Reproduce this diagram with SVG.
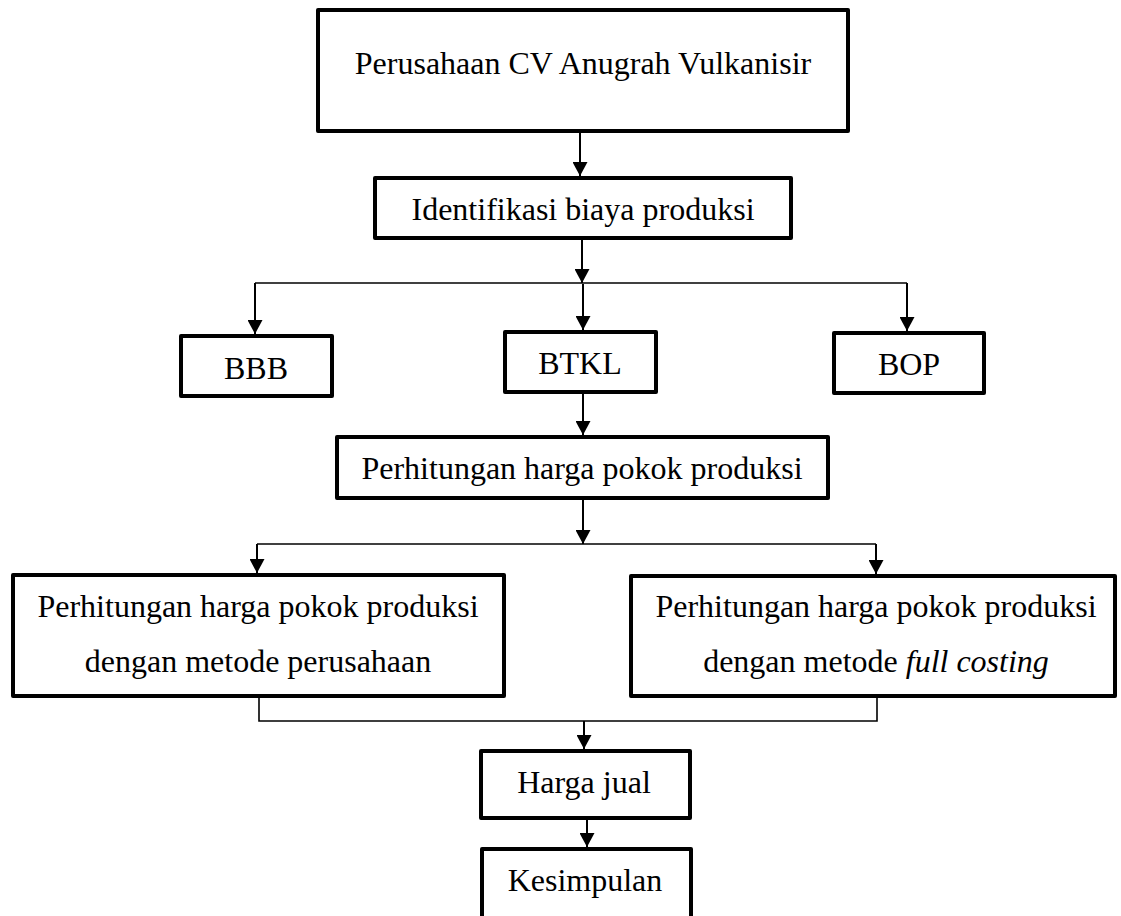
<svg xmlns="http://www.w3.org/2000/svg" width="1121" height="916" viewBox="0 0 1121 916">
<style>
.box{fill:#fff;stroke:#000;stroke-width:4;stroke-linejoin:round}
.t{font-family:"Liberation Serif","Times New Roman",serif;font-size:32px;fill:#000;text-anchor:middle}
.ln{fill:none;stroke:#000;stroke-width:2}
.hl{fill:none;stroke:#000;stroke-width:1.6}
.ar{fill:none;stroke:#000;stroke-width:2;marker-end:url(#ah)}
</style>
<defs>
<marker id="ah" viewBox="0 0 14 15" refX="14" refY="7.5" markerWidth="14" markerHeight="15" markerUnits="userSpaceOnUse" orient="auto">
<path d="M0,0 L14,7.5 L0,15 z" fill="#000"/>
</marker>
</defs>
<rect width="1121" height="916" fill="#fff"/>
<g id="connectors">
<line class="ar" x1="580" y1="133" x2="580" y2="176"/>
<line class="ar" x1="582" y1="240" x2="582" y2="283"/>
<line class="hl" x1="255" y1="283" x2="907" y2="283"/>
<line class="ar" x1="255" y1="283" x2="255" y2="334"/>
<line class="ar" x1="583" y1="284" x2="583" y2="330"/>
<line class="ar" x1="907" y1="283" x2="907" y2="331"/>
<line class="ar" x1="583" y1="394" x2="583" y2="435"/>
<line class="ar" x1="583" y1="500" x2="583" y2="544"/>
<line class="hl" x1="257" y1="544" x2="876" y2="544"/>
<line class="ar" x1="257" y1="544" x2="257" y2="573"/>
<line class="ar" x1="876" y1="544" x2="876" y2="574"/>
<polyline class="hl" points="259,698 259,721 877,721 877,698"/>
<line class="ar" x1="584" y1="721" x2="584" y2="749"/>
<line class="ar" x1="587" y1="820" x2="587" y2="847"/>
</g>
<g id="n-perusahaan">
<rect class="box" x="318" y="10" width="530" height="121"/>
<text class="t" x="583" y="74">Perusahaan CV Anugrah Vulkanisir</text>
</g>
<g id="n-identifikasi">
<rect class="box" x="375" y="178" width="416" height="60"/>
<text class="t" x="583" y="220">Identifikasi biaya produksi</text>
</g>
<g id="n-bbb">
<rect class="box" x="181" y="336" width="151" height="60"/>
<text class="t" x="256" y="379">BBB</text>
</g>
<g id="n-btkl">
<rect class="box" x="505" y="332" width="151" height="60"/>
<text class="t" x="580" y="374">BTKL</text>
</g>
<g id="n-bop">
<rect class="box" x="834" y="333" width="150" height="60"/>
<text class="t" x="909" y="375">BOP</text>
</g>
<g id="n-perhitungan">
<rect class="box" x="337" y="437" width="491" height="61"/>
<text class="t" x="582" y="479">Perhitungan harga pokok produksi</text>
</g>
<g id="n-perusahaan-metode">
<rect class="box" x="13" y="575" width="491" height="121"/>
<text class="t" x="258" y="617">Perhitungan harga pokok produksi</text>
<text class="t" x="258" y="672">dengan metode perusahaan</text>
</g>
<g id="n-full-costing">
<rect class="box" x="631" y="576" width="484" height="120"/>
<text class="t" x="876" y="617">Perhitungan harga pokok produksi</text>
<text class="t" x="876" y="672">dengan metode <tspan font-style="italic">full costing</tspan></text>
</g>
<g id="n-harga-jual">
<rect class="box" x="481" y="751" width="209" height="67"/>
<text class="t" x="584" y="793">Harga jual</text>
</g>
<g id="n-kesimpulan">
<rect class="box" x="482" y="849" width="209" height="80"/>
<text class="t" x="585" y="891">Kesimpulan</text>
</g>
</svg>
